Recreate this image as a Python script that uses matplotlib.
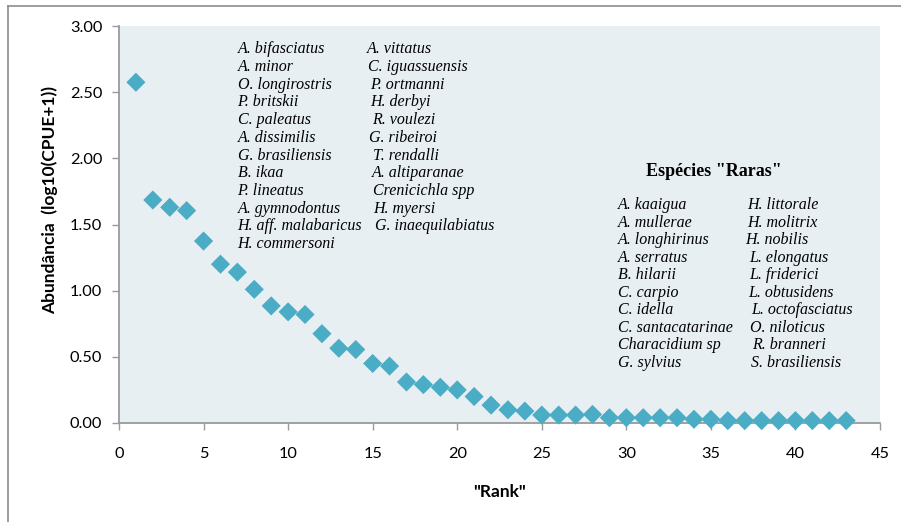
import matplotlib
matplotlib.use("Agg")
import matplotlib.pyplot as plt
from matplotlib.lines import Line2D

# ---- data ----
ranks = list(range(1, 44))
abundance = [2.575, 1.685, 1.63, 1.605, 1.375, 1.20, 1.14, 1.01, 0.885, 0.84,
             0.82, 0.675, 0.565, 0.555, 0.45, 0.43, 0.31, 0.29, 0.27, 0.25,
             0.20, 0.135, 0.10, 0.09, 0.06, 0.06, 0.06, 0.065, 0.04, 0.04,
             0.04, 0.04, 0.04, 0.028, 0.028, 0.018, 0.018, 0.018, 0.018, 0.018,
             0.018, 0.018, 0.018]
x_ticks = [0, 5, 10, 15, 20, 25, 30, 35, 40, 45]
y_ticks = [0.0, 0.5, 1.0, 1.5, 2.0, 2.5, 3.0]

common_col1 = ["A. bifasciatus", "A. minor", "O. longirostris", "P. britskii",
               "C. paleatus", "A. dissimilis", "G. brasiliensis", "B. ikaa",
               "P. lineatus", "A. gymnodontus", "H. aff. malabaricus", "H. commersoni"]
common_col2 = ["A. vittatus", "C. iguassuensis", "P. ortmanni", "H. derbyi",
               "R. voulezi", "G. ribeiroi", "T. rendalli", "A. altiparanae",
               "Crenicichla spp", "H. myersi", "G. inaequilabiatus"]
rare_title = 'Espécies "Raras"'
rare_col1 = ["A. kaaigua", "A. mullerae", "A. longhirinus", "A. serratus",
             "B. hilarii", "C. carpio", "C. idella", "C. santacatarinae",
             "Characidium sp", "G. sylvius"]
rare_col2 = ["H. littorale", "H. molitrix", "H. nobilis", "L. elongatus",
             "L. friderici", "L. obtusidens", "L. octofasciatus", "O. niloticus",
             "R. branneri", "S. brasiliensis"]

# ---- figure ----
W, H = 901, 522
fig = plt.figure(figsize=(W / 100, H / 100), dpi=100)
sans = ["Lato", "DejaVu Sans"]
serif = ["Liberation Serif", "DejaVu Serif"]

def fx(px):
    return px / W

def fy(py):
    return 1 - py / H

# outer border (cropped chart area frame)
fig.add_artist(Line2D([fx(8), fx(8)], [fy(6), 0], transform=fig.transFigure,
                      color="#8c8c8c", lw=1.2))
fig.add_artist(Line2D([fx(8), 1], [fy(6), fy(6)], transform=fig.transFigure,
                      color="#8c8c8c", lw=1.2))

left, right, top, bottom = 119, 880, 26, 423
ax = fig.add_axes([fx(left), fy(bottom), fx(right - left), (bottom - top) / H])
ax.set_facecolor("#E8EFF3")
ax.scatter(ranks, abundance, marker="D", s=95, color="#4BACC6",
           edgecolors="none", zorder=3, clip_on=False)

ax.set_xlim(0, 45)
ax.set_ylim(0, 3)
ax.set_xticks(x_ticks)
ax.set_xticklabels([str(v) for v in x_ticks], fontfamily=sans, fontsize=11.8)
ax.set_yticks(y_ticks)
ax.set_yticklabels([f"{v:.2f}" for v in y_ticks], fontfamily=sans, fontsize=11.8)
for s in ["top", "right"]:
    ax.spines[s].set_visible(False)
for s in ["left", "bottom"]:
    ax.spines[s].set_color("#9a9a9a")
    ax.spines[s].set_linewidth(1.3)
ax.tick_params(axis="both", direction="out", length=5, color="#9a9a9a",
               width=1.0, labelcolor="black")
ax.tick_params(axis="x", pad=12)
ax.tick_params(axis="y", pad=7)

ax.set_xlabel('"Rank"', fontfamily=sans, fontsize=12.5, fontweight="bold",
              labelpad=17)
fig.text(fx(50), fy(200), "Abundância  (log10(CPUE+1))", rotation=90,
         ha="center", va="center", fontfamily=sans, fontsize=12.5,
         fontweight="bold")

# species annotation blocks
fs = 11.5
row0, dy = 49.3, 17.7
for i, name in enumerate(common_col1):
    fig.text(fx(237.5), fy(row0 + i * dy), name, ha="left", va="center",
             fontfamily=serif, style="italic", fontsize=fs)
col2_x = [366.7, 367.7, 370, 370, 371.7, 369.3, 373.3, 371.7, 372.7, 373.3, 375]
for i, name in enumerate(common_col2):
    fig.text(fx(col2_x[i]), fy(row0 + i * dy), name, ha="left", va="center",
             fontfamily=serif, style="italic", fontsize=fs)

fig.text(fx(714), fy(171.5), rare_title, ha="center", va="center",
         fontfamily=serif, fontweight="bold", fontsize=13)
r0, rdy = 205, 17.55
for i, name in enumerate(rare_col1):
    fig.text(fx(618.3), fy(r0 + i * rdy), name, ha="left", va="center",
             fontfamily=serif, style="italic", fontsize=fs)
rcol2_x = [746.7, 746.7, 745, 749.3, 749.3, 748.3, 750.7, 750, 751.7, 750.7]
for i, name in enumerate(rare_col2):
    fig.text(fx(rcol2_x[i]), fy(r0 + i * rdy), name, ha="left", va="center",
             fontfamily=serif, style="italic", fontsize=fs)

fig.savefig("out.png", dpi=100)
